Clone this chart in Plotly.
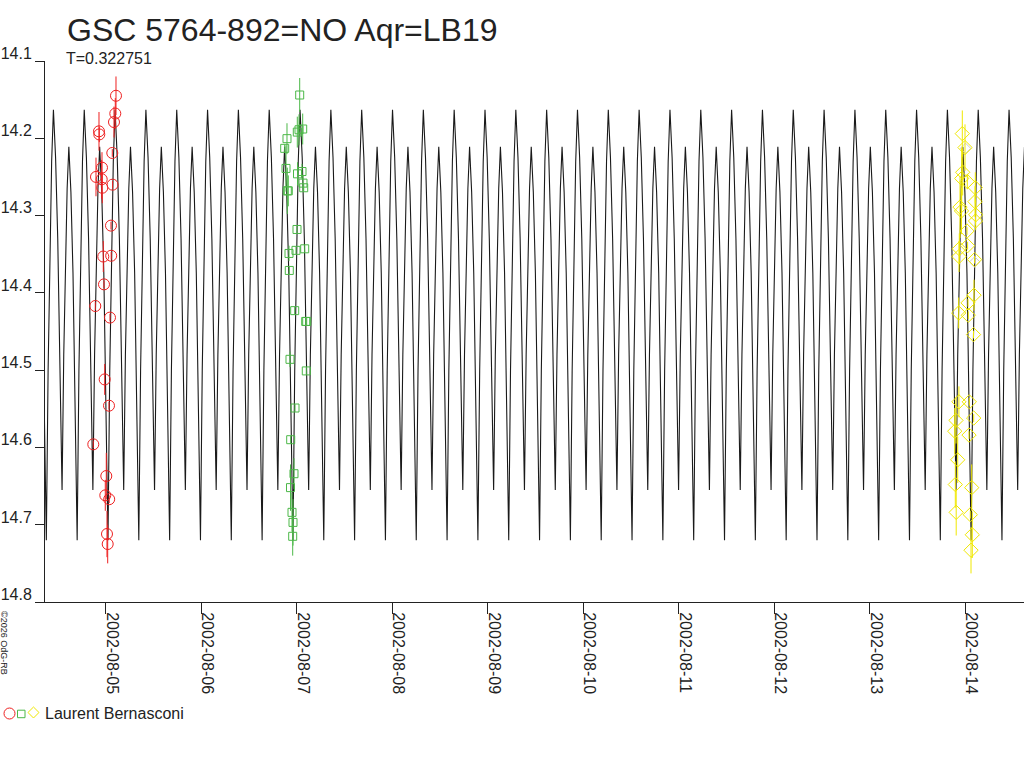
import plotly.graph_objects as go
import pandas as pd
import numpy as np

# ---------------- data ----------------
TITLE = "GSC 5764-892=NO Aqr=LB19"
PERIOD = 0.322751            # days (T in the chart)
EPOCH = 2452496.7623         # JD of a primary maximum
OBSERVER = "Laurent Bernasconi"

# one-cycle light-curve template (phase, magnitude)
tmpl_phase = [0.0, 0.07, 0.14, 0.21, 0.28, 0.335, 0.39, 0.445, 0.5,
              0.5675, 0.635, 0.7025, 0.77, 0.8275, 0.885, 0.9425]
tmpl_mag = [14.163, 14.225, 14.330, 14.470, 14.655, 14.480, 14.350, 14.265, 14.211,
            14.270, 14.375, 14.525, 14.72, 14.500, 14.340, 14.230]

# observations (JD, mag, error)
red_jd = [2452491.6078, 2452491.6005, 2452491.5869, 2452491.4299, 2452491.4330,
          2452491.5691, 2452491.4613, 2452491.3984, 2452491.4581, 2452491.4644,
          2452491.5722, 2452491.5555, 2452491.4749, 2452491.5576, 2452491.4822,
          2452491.3911, 2452491.5450, 2452491.4895, 2452491.5346, 2452491.3702,
          2452491.5063, 2452491.4958, 2452491.5366, 2452491.5136, 2452491.5209]
red_mag = [14.145, 14.168, 14.179, 14.191, 14.195, 14.219, 14.238, 14.250, 14.253,
           14.264, 14.260, 14.313, 14.353, 14.352, 14.389, 14.417, 14.432, 14.512,
           14.546, 14.596, 14.637, 14.662, 14.667, 14.712, 14.725]
red_err = [0.025, 0.02, 0.02, 0.025, 0.01, 0.005, 0.02, 0.025, 0.025, 0.02, 0.005,
           0.005, 0.02, 0.005, 0.005, 0.005, 0.005, 0.02, 0.005, 0.005, 0.03, 0.02,
           0.005, 0.03, 0.025]

green_jd = [2452493.5312, 2452493.5239, 2452493.5626, 2452493.5061, 2452493.3982,
            2452493.3741, 2452493.3878, 2452493.5082, 2452493.5553, 2452493.5658,
            2452493.5731, 2452493.4014, 2452493.4118, 2452493.5029, 2452493.4192,
            2452493.4924, 2452493.5836, 2452493.4223, 2452493.4789, 2452493.5940,
            2452493.6045, 2452493.4296, 2452493.6003, 2452493.4820, 2452493.4370,
            2452493.4715, 2452493.4349, 2452493.4506, 2452493.4611, 2452493.4579]
green_mag = [14.144, 14.189, 14.188, 14.192, 14.2005, 14.213, 14.239, 14.246, 14.243,
             14.258, 14.264, 14.268, 14.268, 14.318, 14.349, 14.345, 14.343, 14.371,
             14.423, 14.437, 14.437, 14.486, 14.501, 14.549, 14.590, 14.634, 14.652,
             14.684, 14.697, 14.715]
green_err = [0.022, 0.02, 0.02, 0.02, 0.02, 0.005, 0.03, 0.015, 0.01, 0.01, 0.005,
             0.03, 0.02, 0.005, 0.01, 0.005, 0.005, 0.005, 0.005, 0.005, 0.005, 0.01,
             0.005, 0.005, 0.005, 0.02, 0.03, 0.025, 0.03, 0.025]

yellow_jd = [2452500.4687, 2452500.4970, 2452500.4729, 2452500.4624, 2452500.5210,
             2452500.6048, 2452500.4446, 2452500.4603, 2452500.6017, 2452500.6090,
             2452500.6069, 2452500.5179, 2452500.4373, 2452500.5241, 2452500.4341,
             2452500.5975, 2452500.5912, 2452500.5283, 2452500.4310, 2452500.5315,
             2452500.5860, 2452500.4331, 2452500.5420, 2452500.5881, 2452500.4025,
             2452500.3893, 2452500.5388, 2452500.4205, 2452500.3954, 2452500.5671,
             2452500.4046, 2452500.5524, 2452500.5734, 2452500.5598]
yellow_mag = [14.194, 14.212, 14.244, 14.252, 14.256, 14.264, 14.289, 14.294, 14.282,
              14.299, 14.307, 14.320, 14.343, 14.339, 14.353, 14.357, 14.403, 14.413,
              14.426, 14.429, 14.454, 14.541, 14.541, 14.562, 14.565, 14.579, 14.584,
              14.616, 14.648, 14.652, 14.684, 14.687, 14.713, 14.733]
yellow_err = [0.03, 0.03, 0.03, 0.04, 0.01, 0.02, 0.04, 0.03, 0.02, 0.02, 0.005,
              0.005, 0.02, 0.005, 0.02, 0.005, 0.02, 0.005, 0.02, 0.005, 0.005, 0.02,
              0.005, 0.005, 0.03, 0.03, 0.005, 0.03, 0.03, 0.03, 0.03, 0.005, 0.03, 0.03]

grey_jd = [2452500.5020, 2452500.5985]
grey_mag = [14.213, 14.360]

y_ticks = [14.1, 14.2, 14.3, 14.4, 14.5, 14.6, 14.7, 14.8]
x_ticks = ["2002-08-05", "2002-08-06", "2002-08-07", "2002-08-08", "2002-08-09",
           "2002-08-10", "2002-08-11", "2002-08-12", "2002-08-13", "2002-08-14"]
x_range = ["2002-08-04 08:45", "2002-08-14 14:45"]
y_range = [14.8, 14.1]

# ---------------- helpers ----------------
def jd2dt(jd):
    return pd.to_datetime(np.asarray(jd) - 2440587.5, unit="D")

FONT = "Liberation Sans, Arial, sans-serif"
TXT = "#222222"
W, H = 1024, 768
L, R, T, B = 45, 0, 61, 166
PW, PH = W - L - R, H - T - B

def px(xp):
    return (xp - L) / PW

def py(yp):
    return (H - B - yp) / PH

# model curve built from the template repeated with the period
start_jd = 2452490.8645
end_jd = 2452501.12
k0 = int(np.floor((start_jd - EPOCH) / PERIOD)) - 1
k1 = int(np.ceil((end_jd - EPOCH) / PERIOD)) + 1
curve_jd, curve_mag = [], []
for k in range(k0, k1 + 1):
    for ph, m in zip(tmpl_phase, tmpl_mag):
        curve_jd.append(EPOCH + (k + ph) * PERIOD)
        curve_mag.append(m)

fig = go.Figure()
fig.add_trace(go.Scatter(x=jd2dt(curve_jd), y=curve_mag, mode="lines",
                         line=dict(color="#1a1a1a", width=1.1), hoverinfo="skip"))

def obs(jd, mag, err, sym, size, col):
    fig.add_trace(go.Scatter(
        x=jd2dt(jd), y=mag, mode="markers",
        marker=dict(symbol=sym, size=size, color=col, line=dict(width=1, color=col)),
        error_y=dict(type="data", array=err, visible=True, thickness=1, width=0, color=col)))

obs(grey_jd, grey_mag, [0, 0], "diamond-open", 8, "#cccccc")
obs(red_jd, red_mag, red_err, "circle-open", 11, "#ee2020")
obs(green_jd, green_mag, green_err, "square-open", 8, "#4cb848")
obs(yellow_jd, yellow_mag, yellow_err, "diamond-open", 11, "#f0e800")

fig.update_layout(
    width=W, height=H, margin=dict(l=L, r=R, t=T, b=B, pad=0, autoexpand=False),
    paper_bgcolor="white", plot_bgcolor="white", showlegend=False,
    font=dict(family=FONT, color=TXT),
    xaxis=dict(type="date", range=x_range, tickvals=x_ticks, ticktext=x_ticks,
               tickangle=90, ticks="outside", ticklen=11, tickcolor="#222",
               showline=True, linecolor="#222", linewidth=1, showgrid=False,
               zeroline=False, tickfont=dict(size=16, color=TXT, family=FONT),
               ticklabelshift=6, ticklabelstandoff=-5, automargin=False),
    yaxis=dict(range=y_range, tickvals=y_ticks, ticktext=[f"{v:.1f}" for v in y_ticks],
               ticks="outside", ticklen=9, tickcolor="#222", showline=True,
               linecolor="#222", linewidth=1, showgrid=False, zeroline=False,
               tickfont=dict(size=16, color=TXT, family=FONT),
               ticklabelposition="outside top", ticklabelstandoff=9,
               ticklabelshift=-4, automargin=False),
)

ann = [
    dict(text=TITLE, x=px(65), y=py(30), xanchor="left", yanchor="middle",
         font=dict(size=32, color=TXT, family=FONT)),
    dict(text="T=%g" % PERIOD, x=px(64), y=py(59), xanchor="left", yanchor="middle",
         font=dict(size=16, color=TXT, family=FONT)),
    dict(text=OBSERVER, x=px(43), y=py(713), xanchor="left", yanchor="middle",
         font=dict(size=16, color=TXT, family=FONT)),
    dict(text="©2026 OdG-RB", x=px(4), y=py(643), xanchor="center", yanchor="middle",
         textangle=90, font=dict(size=9, color=TXT, family=FONT)),
]
for a in ann:
    a.update(xref="paper", yref="paper", showarrow=False)
fig.update_layout(annotations=ann)

# legend symbols
shapes = [
    dict(type="circle", x0=px(4), x1=px(15), y0=py(719), y1=py(708),
         line=dict(color="#ee2020", width=1)),
    dict(type="rect", x0=px(17.5), x1=px(25), y0=py(717.7), y1=py(710.2),
         line=dict(color="#4cb848", width=1)),
    dict(type="path",
         path="M %f %f L %f %f L %f %f L %f %f Z" % (px(33.5), py(707), px(39), py(712.5),
                                                     px(33.5), py(718), px(28), py(712.5)),
         line=dict(color="#f0e800", width=1)),
]
for s in shapes:
    s.update(xref="paper", yref="paper")
fig.update_layout(shapes=shapes)

fig.write_html("out.html", config={"displayModeBar": False},
               post_script="document.body.style.margin='0';document.body.style.padding='0';")
